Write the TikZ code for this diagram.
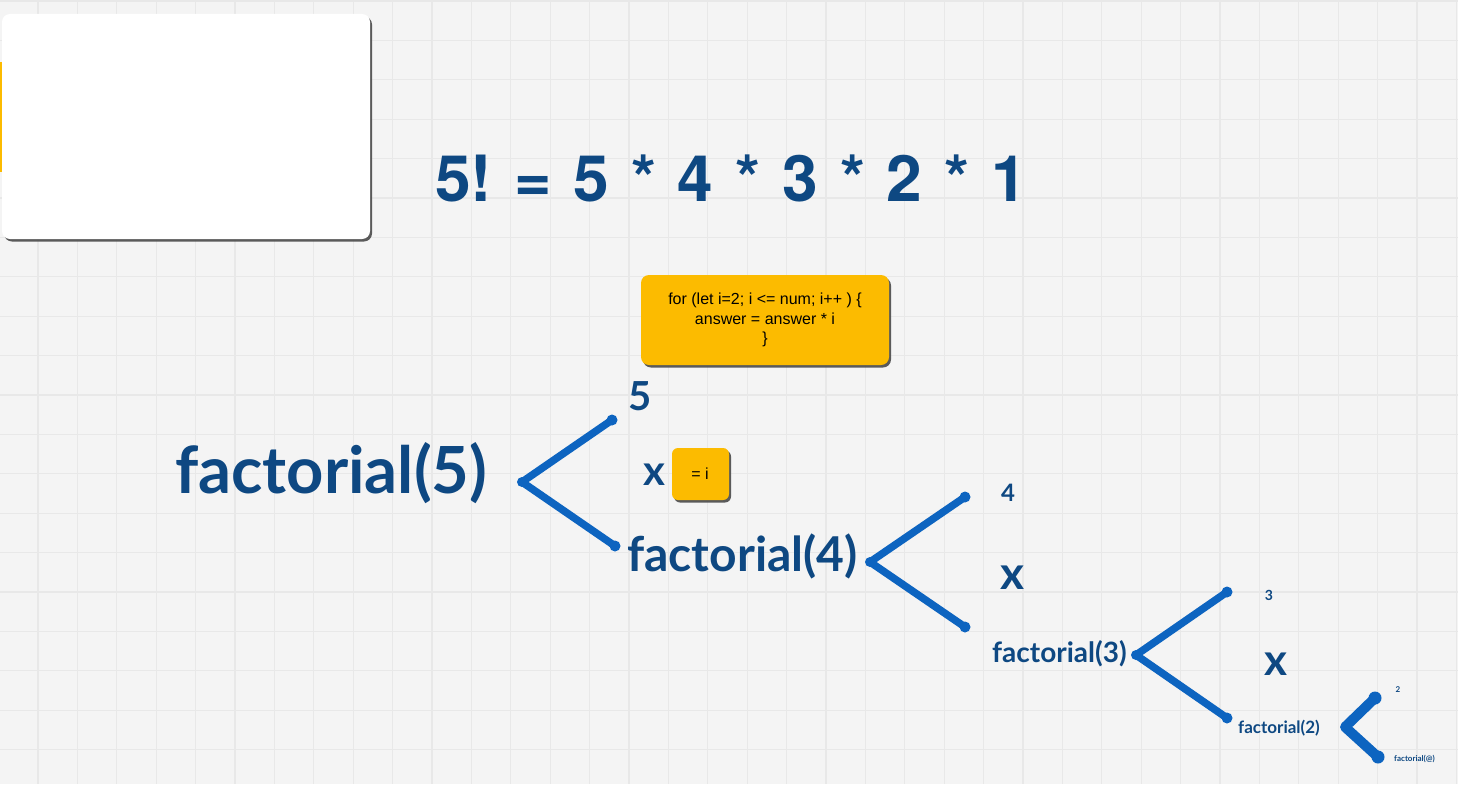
\documentclass[tikz,border=0pt]{standalone}
\usepackage{fontspec}
\setmainfont{Liberation Sans}
\newfontfamily\lato{Lato}
\newfontfamily\heros{TeX Gyre Heros}
\usetikzlibrary{shadows}
\definecolor{bgc}{RGB}{244,244,244}
\definecolor{gridc}{RGB}{232,232,232}
\definecolor{navy}{RGB}{14,72,130}
\definecolor{pen}{RGB}{13,100,192}
\definecolor{amber}{RGB}{252,187,0}
\newcommand{\tsp}{\hspace{22pt}}
\tikzset{
  card/.style={rounded corners=8pt, inner sep=0pt,
    drop shadow={shadow xshift=2pt, shadow yshift=-2.5pt, fill=black!75, opacity=0.85}},
  ftext/.style={inner sep=0pt, text=navy, font=\lato\bfseries},
  branch/.style={draw=pen, line width=#1, line cap=round, line join=round},
  branch/.default=7.5pt,
}
\begin{document}
\begin{tikzpicture}[x=1pt,y=-1pt]
\useasboundingbox (0,0) rectangle (1458,784);
% background and grid
\fill[bgc] (0,0) rectangle (1458,784);
\foreach \i in {0,...,36} {\draw[gridc, line width=1.3pt] (38+39.4*\i,0) -- (38+39.4*\i,784);}
\foreach \j in {0,...,20} {\draw[gridc, line width=1.3pt] (0,1+39.4*\j) -- (1458,1+39.4*\j);}
% yellow sliver at left edge
\fill[amber] (0,62) rectangle (2,172);
% white card
\path[card, fill=white] (2,14) rectangle (370,239);
% title
\node[inner sep=0pt, text=navy, font=\heros\bfseries\fontsize{64}{64}\selectfont, anchor=base west] (title) at (435,201) {5!\tsp=\tsp5\tsp*\tsp4\tsp*\tsp3\tsp*\tsp2\tsp*\tsp1};
% code box
\path[card, fill=amber] (641,275) rectangle (889,365);
\node[inner sep=0pt, align=center, font=\fontsize{16}{19.5}\selectfont] (code) at (765,320) {for (let i=2; i <= num; i++ ) \{\\answer = answer * i\\\}};
% = i box
\path[card, fill=amber, rounded corners=6pt] (672,448) rectangle (729,500);
\node[inner sep=0pt, font=\fontsize{16}{16}\selectfont] (eqi) at (700,474) {= i};
% level 1
\node[ftext, font=\lato\bfseries\fontsize{65}{65}\selectfont, anchor=base west] (f5) at (175,493) {factorial(5)};
\coordinate (v1) at (522,482);
\coordinate (u1) at (612,420);
\coordinate (l1) at (615,546);
\draw[branch] (u1) -- (v1) -- (l1);
\fill[pen] (u1) circle (5.5) (l1) circle (5.5) (v1) circle (5);
\node[ftext, font=\lato\bfseries\fontsize{40}{40}\selectfont, anchor=base] (n5) at (640,410) {5};
\node[ftext, font=\lato\bfseries\fontsize{42}{42}\selectfont, anchor=base] (x1) at (654,485) {x};
% level 2
\node[ftext, font=\lato\bfseries\fontsize{48}{48}\selectfont, anchor=base west] (f4) at (627,571) {factorial(4)};
\coordinate (v2) at (870,562);
\coordinate (u2) at (965,497);
\coordinate (l2) at (965,627);
\draw[branch] (u2) -- (v2) -- (l2);
\fill[pen] (u2) circle (5.5) (l2) circle (5.5) (v2) circle (5);
\node[ftext, font=\lato\bfseries\fontsize{24}{24}\selectfont, anchor=base] (n4) at (1008,501) {4};
\node[ftext, font=\lato\bfseries\fontsize{46}{46}\selectfont, anchor=base] (x2) at (1012,589) {x};
% level 3
\node[ftext, font=\lato\bfseries\fontsize{28}{28}\selectfont, anchor=base west] (f3) at (992,662) {factorial(3)};
\coordinate (v3) at (1136,655);
\coordinate (u3) at (1227,592);
\coordinate (l3) at (1227,718);
\draw[branch] (u3) -- (v3) -- (l3);
\fill[pen] (u3) circle (5.5) (l3) circle (5.5) (v3) circle (5);
\node[ftext, font=\lato\bfseries\fontsize{14}{14}\selectfont, anchor=base] (n3) at (1269,600) {3};
\node[ftext, font=\lato\bfseries\fontsize{44}{44}\selectfont, anchor=base] (x3) at (1276,675) {x};
% level 4
\node[ftext, font=\lato\bfseries\fontsize{17}{17}\selectfont, anchor=base west] (f2) at (1238,733) {factorial(2)};
\coordinate (v4) at (1345,727);
\coordinate (u4) at (1375,698);
\coordinate (l4) at (1378,757);
\draw[branch=10pt] (u4) -- (v4) -- (l4);
\fill[pen] (u4) circle (6.5) (l4) circle (6.5);
\node[ftext, font=\lato\bfseries\fontsize{8}{8}\selectfont, anchor=base] (n2) at (1398,692) {2};
\node[ftext, font=\lato\bfseries\fontsize{8}{8}\selectfont, anchor=base west] (f1) at (1394,761) {factorial(@)};
\end{tikzpicture}
\end{document}
